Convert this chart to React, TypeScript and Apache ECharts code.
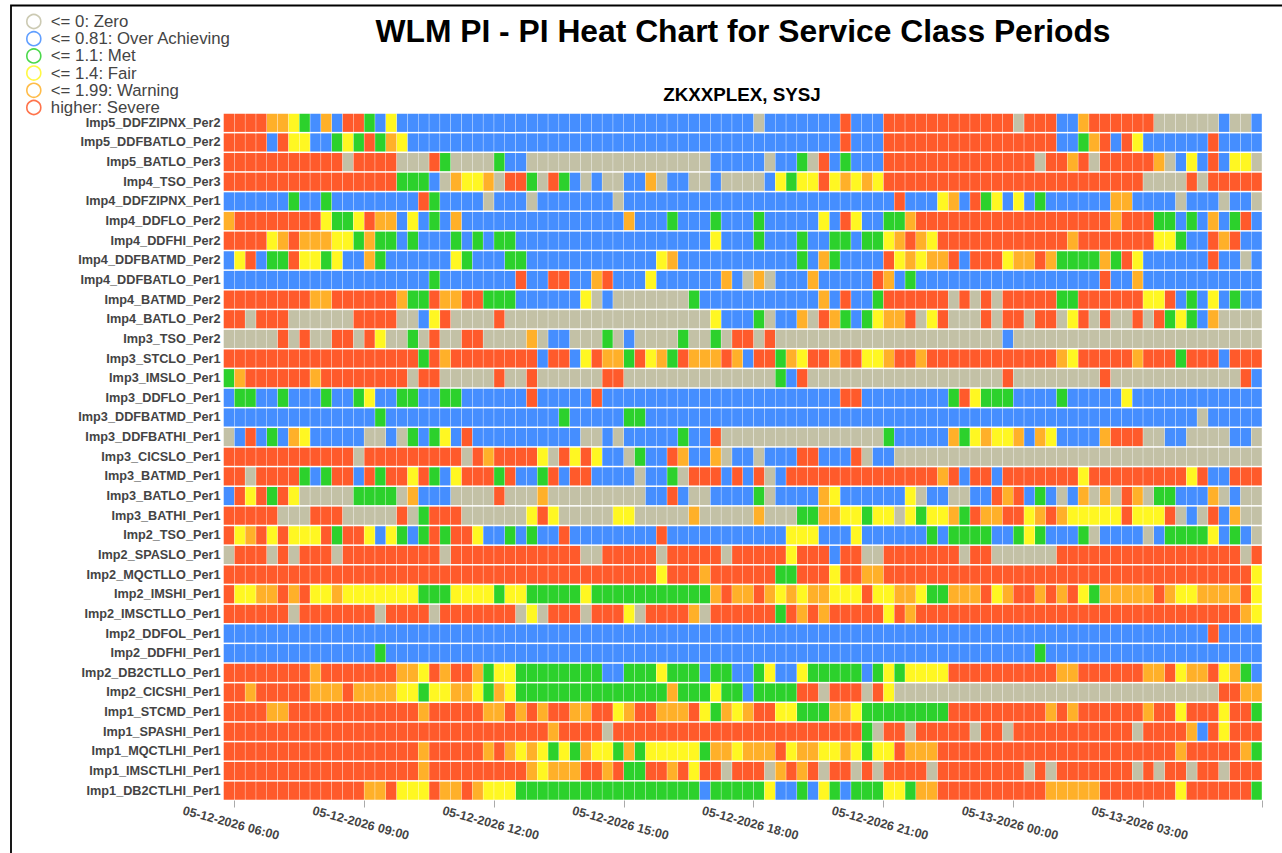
import React, { useEffect, useRef } from "react";
import * as echarts from "echarts";

const TITLE = "WLM PI - PI Heat Chart for Service Class Periods";
const SUBTITLE = "ZKXXPLEX, SYSJ";

const LEVEL_KEYS = ["Z", "B", "G", "Y", "O", "R"];
const LEVEL_NAMES = [
  "<= 0: Zero",
  "<= 0.81: Over Achieving",
  "<= 1.1: Met",
  "<= 1.4: Fair",
  "<= 1.99: Warning",
  "higher: Severe",
];
const LEVEL_COLORS = ["#C3C1A6", "#458EFF", "#2CD12C", "#FFF722", "#FFB029", "#FF5A2B"];

const ROW_NAMES = [
  "Imp5_DDFZIPNX_Per2", "Imp5_DDFBATLO_Per2", "Imp5_BATLO_Per3", "Imp4_TSO_Per3", "Imp4_DDFZIPNX_Per1",
  "Imp4_DDFLO_Per2", "Imp4_DDFHI_Per2", "Imp4_DDFBATMD_Per2", "Imp4_DDFBATLO_Per1", "Imp4_BATMD_Per2",
  "Imp4_BATLO_Per2", "Imp3_TSO_Per2", "Imp3_STCLO_Per1", "Imp3_IMSLO_Per1", "Imp3_DDFLO_Per1",
  "Imp3_DDFBATMD_Per1", "Imp3_DDFBATHI_Per1", "Imp3_CICSLO_Per1", "Imp3_BATMD_Per1", "Imp3_BATLO_Per1",
  "Imp3_BATHI_Per1", "Imp2_TSO_Per1", "Imp2_SPASLO_Per1", "Imp2_MQCTLLO_Per1", "Imp2_IMSHI_Per1",
  "Imp2_IMSCTLLO_Per1", "Imp2_DDFOL_Per1", "Imp2_DDFHI_Per1", "Imp2_DB2CTLLO_Per1", "Imp2_CICSHI_Per1",
  "Imp1_STCMD_Per1", "Imp1_SPASHI_Per1", "Imp1_MQCTLHI_Per1", "Imp1_IMSCTLHI_Per1", "Imp1_DB2CTLHI_Per1",
];

// Each row: status runs across the 96 quarter-hour columns (letter = level, number = cells).
const ROW_RUNS = [
  "R4O2Y1G1B1O1B1R2G1B1Y1B16 B17Z1B7R1B3R3 R9Z1R3B2O1R6Z6B1Z2B1",
  "R4B1R1Y2B2G1Y1G1R1G1O1Y1B15 B25R1B3R3 R13B2G1O1R1B1R1Y1B6R1B4",
  "R11Z1R4Z3R1G1Z4G1B2Z4 Z13B5Z1B2G1Z1R1B1G1B3R3 R11Z1R2O1R1Z1R5O1Z1B1Y1B1R1B1Y2Z1",
  "R16G3B1Z1O1Y2O1Z1R2G1Z1R1G1 B1Z1B1Z2B2O1Z1B2Z2B1Z4B1Y1G1Y2R1Y1O1Y1O1Y1R3 R21Z4R1Z1R5",
  "B6G1B2G1B8R1G1B4Z1B3Z1B3 B4Z1B25R1B1 B2Y1O1B1R1G1Y1B1Y1B1G1B6O2B4Z1B3Z1B2Z1",
  "O1R8Y1G2Y1R1O2B1Y1B1G1B1O1B10 B5O1B3G1B3G1B3G1B5Y1B1R1Y1B2G2O1 R18O1R3G2B1G1B1O1B1G1R1B1",
  "R4Y1O1R1O3Y2G1O1G2B1G1B3G1B1G1B1G2B5 B13Y1B3G1B3G1B2G2B1G2Y1O1R1 O1Y1R12O1R7Y2G1B2R1O1R1B2",
  "B1Y1R1B1G2R1Y2G1Y1B2O1G1B6Y1G1B3G2B4 B8Y1O1B11G1B1O1G1B4R1Y1O1 Y1O2R1B1R3Y1O2R1O1G4O1G1R1Y1B6R1B2Z1B1",
  "B19G1B7R1B2R2 B2O1R1B3Y1B6O1B1Z1O1Z1B3O1B5R1O1B1G1 B17R1B2O1B11",
  "R8O2R6O1G2R1O2R2G3B5 B1Y1Z1B1Z7G1B11O1B1R1B2G1R3 R3Z1R1Z1R1Z1R5G2R6Y2R1B1G1B1Y1B1G1B2",
  "R2Z1R3Z6R4Z2B1Y1R1Z4R1Z6 Z13Y1B3G1Z1B2O1Z1R1O1G1B1G1Y1O2R1 Z1Y1R1Z3R1Z1R2Z1R2Z1Y1R1Z1R1Z2R1Z1R1G1Y1G1B1O1Z4",
  "Z5R1Z1R1Z2R2Z1R1Y1Z2G1Z1R1Z2R2Z4O1Z1B2 Z3G1Z1B1Z4G1Z2G1Z1R2Z1R1Z13 Z8B1Z23",
  "R18G1R1O1R8B1R2 B1Y1R1O2G1R1Y1O1G1R1O3R1O1B1R2G1O1Y1R2O1R2Y2O1R2 O1R12O1Y1R5O1R3G1R3B1R3",
  "G1O1R6O1R8Z1R2Z5R1Z2R1Z3 Z3R2Z14G1B1R1Z10 Z8R1Z8R1Z12R1B1",
  "B1G2B2G1B3G1B2G1Y1B2G2B2G2B6R1B3 B2R1B22R2B5 B3G1R1Y1G3B4G1B5Y1B12",
  "B14G1B16G1 B5G2B25 B26Z1B5",
  "Z1B1R1B1G1B1O1Y1B5Z2B1Z1G1B1G1Y1B1R1B9 B1Z2B1Z1B5G1B2R1Z15G1B2 B3O1G1Y1O1Y2O1B1O1Y1B4O1R3Z2B2Z4B2Z1",
  "R12Z1R9Z1R1O1R4Y1Z1R1 Y1R1Y1B2Z1G1B2R1O1B2O1Z1B2Z1B3R2B3R1Z1B2Z2 Z32",
  "R2Z1R4G1B1G1R2B1R1G1R2Y1R1G1B1Y1R3G1R1B2G1R1B1 R2B4Z1B2G1Z1R3B1R1B1R1Z1B1R12 R2O1R1B1R2B1R7Y1R9Y1R1B2R3",
  "B1R1Y1R1G1R1Y1Z5G4Z1O1B3Z4R1Z3O1Z2 Z7B2R1B1Z2B4G1Z1B4O1Y1B6Y1 Z1B2Z2B2R1O1R1B1G1B1Z1B1O1Z1O1Z1R1O1Z1G2B3O1Z1B1Z2",
  "R5Z3R3Z5R1Z1G1R3Z6Y1R1Y1Z1 Z4Y2Z5O1Z5O1Z3G2O2Y2G1Y2Z1Y1 G1Y2O1G1R1O2R2Y1O1R1O1Y5R1Y3R1Z1B1Z1R1B1O1Z2",
  "R1Y1O1R1Y1R1Y3R1G1R2Y1B1Y1G1B1G1R1G1R2Y1B2G1B1G1B2R1 B8R1B11Y3B3Y1B5 B1G1B1G4B2G1Y1G1B3G1Z1B4Z1B1G4Y1B1G1B1Z1",
  "Z1R3Z1R1Z1R3Z1R9Z1R11 R1Z2R5Z1R5Z1R5Y1R3B1R2Z2R3 R4Z1R2Z6R17Z1R1",
  "R32 R8Y1R3O1R6G2R3Y1R2O2R3 R31Y1",
  "R1Y2O2R1O1R1Y2O1Y7G3Y4G1Y2G4 G1Y1G11O1R1O2R1O1Y1O1Y1O2Y3R1Y2O2 Y1G2O3R1Y1O1R2O1R1O1R1Y1G1O5R1O1Y2O4R1Y1",
  "R6Z1R7Z1R4Z1R7Z1Y1Z1R2 R1Z1R3Y1Z1R4O1Z1R6G1R1O1R1O1R5Y1R1O1 R30O1Y1",
  "B32 B32 B27R1B4",
  "B14G1B17 B32 B11G1B20",
  "R8O1R7O2Y1R1O1R2O1G1Y2G5 G3B2G3Y1G3B1G2B2G1Y1B2Y1G5B1G1Y1G1Y1 Y3R10O2R6O2R1Y1O2R1Y1O1G1B1",
  "R2O1R5O3R1O4Y2G1Y2O2Y1G1O1Y1G5 G9O1G3Y1G2B1G4R2Z1R3Z1R1Y1Z2 Z28R2O2",
  "R4O2R12O1R5O2R1O1R1O1R2 O2R2Y1O1R2O3R1Y1G1O1Y1O1R2Y2G3O2Y1G5 G3R9O1R1O1R6O1R2Y1R3Y1R2G1",
  "R30O1R1 R3Z1R23G1Z1R2Z1 R5Z1R2Z1R11Z1R4O1B1R1Y1R3",
  "R18O1R5O1R1O1Y1O1Y1G1Y1 G1O1Y2G1O1G1Y5G1O2Y1O3R1Y1O2Y2O1Y1G1Y2R1O1 O2R22O1R5O1G1",
  "R18O1R9O1Y1O2 O1R2O1R1G2R2O1R1Y1R2Z1R3Z1O1R1O1R1Z1R2Z1R1Z1R3 R1Z1R8Z1R1Z1R7Z1R1Z1R2Z1R2Z1R3",
  "R13O2R1Y3R1O2R1O1Y3G5 G12B1G5Y1B2G1B1Y1G1B1G3Y2G1 O2R10O5R7Y1R6G1",
];

const COLUMN_COUNT = 96;
const FIRST_COLUMN_MINUTES = 5 * 60 + 45;
const TICK_EVERY = 12;
const TICK_OFFSET = 1;

const pad = (n: number) => String(n).padStart(2, "0");
const COLUMN_TIMES = Array.from({ length: COLUMN_COUNT }, (_, i) => {
  const total = FIRST_COLUMN_MINUTES + i * 15;
  const day = 12 + Math.floor(total / 1440);
  const m = total % 1440;
  return `05-${day}-2026 ${pad(Math.floor(m / 60))}:${pad(m % 60)}`;
});

function decodeRow(runs: string): string[] {
  const cells: string[] = [];
  for (const match of runs.matchAll(/([ZBGYOR])(\d+)/g)) {
    for (let i = 0; i < Number(match[2]); i++) cells.push(match[1]);
  }
  return cells;
}

const GRID = { left: 223.5, top: 113, width: 1038.5, height: 687.5 };
const FONT = "'Liberation Sans', Arial, sans-serif";

function renderCell(params: any, api: any) {
  const c = api.coord([api.value(0), api.value(1)]);
  const s = api.size([1, 1]);
  const gapX = 0.4;
  const gapY = 1.5;
  return {
    type: "rect",
    shape: {
      x: c[0] - s[0] / 2 + gapX / 2,
      y: c[1] - s[1] / 2 + gapY / 2,
      width: s[0] - gapX,
      height: s[1] - gapY,
    },
    style: { fill: LEVEL_COLORS[params.seriesIndex] },
  };
}

export default function App() {
  const ref = useRef<HTMLDivElement>(null);

  useEffect(() => {
    document.body.style.margin = "0";
    const chart = echarts.init(ref.current!, undefined, { renderer: "svg" });
    const decoded = ROW_RUNS.map(decodeRow);
    const isTick = (i: number) => i % TICK_EVERY === TICK_OFFSET;

    chart.setOption({
      animation: false,
      backgroundColor: "#fff",
      textStyle: { fontFamily: FONT },
      title: [
        {
          text: TITLE,
          left: 743,
          top: 15,
          padding: 0,
          textAlign: "center",
          textStyle: { fontSize: 31.8, fontWeight: "bold", color: "#000", fontFamily: FONT },
        },
        {
          text: SUBTITLE,
          left: 742,
          top: 85,
          padding: 0,
          textAlign: "center",
          textStyle: { fontSize: 18.8, fontWeight: "bold", color: "#000", fontFamily: FONT },
        },
      ],
      legend: {
        orient: "vertical",
        left: 26,
        top: 13,
        padding: 0,
        itemWidth: 14,
        itemHeight: 14,
        itemGap: 0.2,
        selectedMode: false,
        icon: "circle",
        textStyle: { fontSize: 16.8, lineHeight: 14, color: "#444", fontFamily: FONT, padding: [0, 0, 0, 5] },
        data: LEVEL_NAMES.map((name, i) => ({
          name,
          icon: "circle",
          itemStyle: { color: "#fff", borderColor: LEVEL_COLORS[i], borderWidth: 1.6, opacity: 0.85 },
        })),
      },
      grid: { ...GRID },
      xAxis: {
        type: "category",
        data: COLUMN_TIMES,
        boundaryGap: true,
        axisLine: { show: false },
        axisTick: { show: true, length: 7, interval: isTick, lineStyle: { color: "#aaa", width: 1 } },
        splitLine: { show: false },
        axisLabel: {
          interval: isTick,
          rotate: -15,
          align: "center",
          verticalAlign: "middle",
          margin: 25,
          padding: [0, 18, 0, 0],
          fontSize: 12.5,
          fontWeight: "bold",
          color: "#444",
          fontFamily: FONT,
          hideOverlap: false,
        },
      },
      yAxis: {
        type: "category",
        inverse: true,
        data: ROW_NAMES,
        axisLine: { show: false },
        axisTick: { show: false },
        splitLine: { show: false },
        axisLabel: { interval: 0, margin: 3, fontSize: 12.7, fontWeight: "bold", color: "#444", fontFamily: FONT },
      },
      graphic: [
        {
          type: "polyline",
          silent: true,
          shape: { points: [[1282, 5.5], [11, 5.5], [11, 853]] },
          style: { stroke: "#000", lineWidth: 1.8, fill: "none" },
        },
      ],
      series: LEVEL_KEYS.map((key, level) => {
        const data: number[][] = [];
        decoded.forEach((cells, row) => {
          cells.forEach((cell, col) => {
            if (cell === key) data.push([col, row]);
          });
        });
        return {
          type: "custom",
          name: LEVEL_NAMES[level],
          silent: true,
          renderItem: renderCell,
          encode: { x: 0, y: 1 },
          itemStyle: { color: LEVEL_COLORS[level] },
          data,
        };
      }),
    });

    return () => chart.dispose();
  }, []);

  return <div ref={ref} style={{ position: "absolute", left: 0, top: 0, width: 1282, height: 853 }} />;
}
